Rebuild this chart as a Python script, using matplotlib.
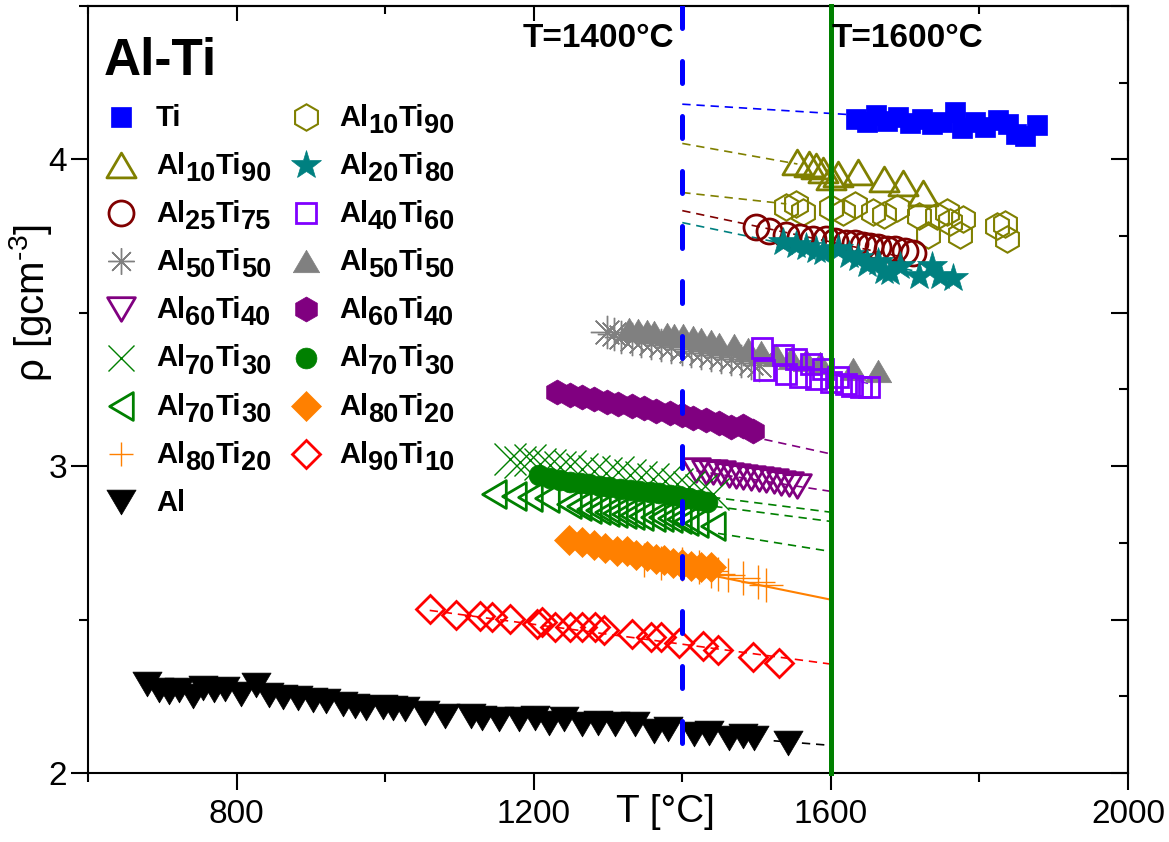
import re
import math
import matplotlib
matplotlib.use('Agg')
import matplotlib.pyplot as plt
from matplotlib.path import Path
from matplotlib.ticker import MultipleLocator, NullFormatter

plt.rcParams['font.family'] = ['Liberation Sans', 'DejaVu Sans']
plt.rcParams['mathtext.fontset'] = 'custom'
plt.rcParams['mathtext.rm'] = 'Liberation Sans'

W, H = 1169, 842

# --- measured densities (T in degC, rho in g/cm3) ---
ti_T = [1634, 1648, 1661, 1675, 1691, 1707, 1723, 1736, 1750, 1767, 1777, 1794, 1807, 1825, 1838, 1849, 1862, 1877]
ti_rho = [4.131, 4.121, 4.144, 4.124, 4.137, 4.118, 4.131, 4.114, 4.121, 4.154, 4.101, 4.121, 4.105, 4.127, 4.114, 4.082, 4.075, 4.111]

al10ti90a_T = [1555, 1570, 1580, 1589, 1600, 1610, 1637, 1671, 1697, 1724]
al10ti90a_rho = [3.990, 3.984, 3.977, 3.964, 3.944, 3.951, 3.958, 3.935, 3.922, 3.892]

al10ti90b_T = [1539, 1553, 1562, 1600, 1616, 1633, 1657, 1671, 1689, 1718, 1731, 1743, 1756, 1760, 1774, 1778, 1823, 1834, 1837]
al10ti90b_rho = [3.846, 3.856, 3.827, 3.840, 3.830, 3.850, 3.830, 3.820, 3.840, 3.814, 3.752, 3.814, 3.830, 3.797, 3.752, 3.807, 3.784, 3.791, 3.742]

al25ti75_T = [1499, 1517, 1539, 1559, 1576, 1593, 1606, 1620, 1633, 1643, 1653, 1664, 1675, 1687, 1700, 1710]
al25ti75_rho = [3.781, 3.765, 3.755, 3.748, 3.742, 3.739, 3.735, 3.729, 3.729, 3.722, 3.719, 3.716, 3.709, 3.709, 3.703, 3.696]

al20ti80_T = [1535, 1553, 1566, 1580, 1589, 1609, 1624, 1637, 1649, 1663, 1671, 1680, 1693, 1718, 1736, 1747, 1764]
al20ti80_rho = [3.732, 3.722, 3.716, 3.706, 3.699, 3.709, 3.690, 3.680, 3.660, 3.667, 3.637, 3.634, 3.654, 3.621, 3.654, 3.621, 3.614]

al50ti50a_T = [1298, 1308, 1318, 1332, 1345, 1358, 1372, 1385, 1399, 1412, 1425, 1439, 1452, 1466, 1479, 1492, 1503]
al50ti50a_rho = [3.438, 3.431, 3.422, 3.415, 3.408, 3.402, 3.395, 3.389, 3.382, 3.376, 3.369, 3.363, 3.356, 3.350, 3.343, 3.337, 3.330]

al50ti50b_T = [1328, 1341, 1352, 1362, 1379, 1389, 1401, 1415, 1425, 1439, 1450, 1470, 1488, 1506, 1526, 1546, 1566, 1586, 1630, 1663]
al50ti50b_rho = [3.448, 3.444, 3.441, 3.438, 3.431, 3.428, 3.428, 3.422, 3.415, 3.408, 3.399, 3.395, 3.382, 3.373, 3.363, 3.353, 3.346, 3.337, 3.317, 3.310]

al40ti60_T = [1507, 1510, 1535, 1539, 1553, 1559, 1573, 1580, 1590, 1600, 1610, 1620, 1629, 1640, 1651]
al40ti60_rho = [3.386, 3.314, 3.363, 3.301, 3.350, 3.291, 3.333, 3.284, 3.317, 3.275, 3.291, 3.268, 3.261, 3.258, 3.258]

al60ti40a_T = [1419, 1432, 1442, 1452, 1463, 1472, 1482, 1492, 1503, 1513, 1523, 1533, 1543, 1555]
al60ti40a_rho = [2.987, 2.980, 2.980, 2.977, 2.971, 2.967, 2.964, 2.961, 2.958, 2.954, 2.951, 2.944, 2.941, 2.935]

al60ti40b_T = [1231, 1249, 1265, 1281, 1298, 1314, 1332, 1348, 1365, 1383, 1399, 1415, 1432, 1450, 1466, 1482, 1495]
al60ti40b_rho = [3.242, 3.232, 3.225, 3.219, 3.209, 3.203, 3.196, 3.190, 3.180, 3.173, 3.167, 3.157, 3.150, 3.141, 3.127, 3.131, 3.114]

al70ti30a_T = [1168, 1182, 1195, 1208, 1222, 1235, 1249, 1265, 1281, 1297, 1313, 1329, 1345, 1361, 1377, 1393, 1409, 1425, 1442]
al70ti30a_rho = [3.023, 3.013, 3.020, 3.007, 3.003, 2.997, 3.000, 2.990, 2.984, 2.977, 2.980, 2.971, 2.964, 2.958, 2.951, 2.941, 2.931, 2.922, 2.908]

al70ti30b_T = [1147, 1174, 1195, 1218, 1247, 1261, 1274, 1286, 1298, 1310, 1321, 1332, 1344, 1361, 1372, 1384, 1395, 1405, 1419, 1442]
al70ti30b_rho = [2.908, 2.902, 2.899, 2.895, 2.876, 2.869, 2.859, 2.856, 2.850, 2.846, 2.843, 2.840, 2.837, 2.833, 2.833, 2.830, 2.827, 2.820, 2.814, 2.804]

al70ti30c_T = [1207, 1222, 1235, 1249, 1262, 1275, 1289, 1302, 1316, 1329, 1342, 1356, 1369, 1383, 1396, 1409, 1423, 1433]
al70ti30c_rho = [2.971, 2.961, 2.954, 2.948, 2.944, 2.941, 2.935, 2.931, 2.925, 2.922, 2.918, 2.915, 2.912, 2.905, 2.902, 2.895, 2.889, 2.882]

al80ti20a_T = [1348, 1372, 1399, 1423, 1439, 1448, 1462, 1482, 1502, 1513]
al80ti20a_rho = [2.693, 2.686, 2.680, 2.670, 2.660, 2.650, 2.644, 2.634, 2.624, 2.614]

al80ti20b_T = [1247, 1265, 1281, 1296, 1312, 1325, 1338, 1352, 1365, 1376, 1388, 1399, 1412, 1425, 1439]
al80ti20b_rho = [2.761, 2.752, 2.742, 2.735, 2.725, 2.722, 2.712, 2.706, 2.699, 2.693, 2.686, 2.680, 2.676, 2.673, 2.670]

al90ti10_T = [1060, 1096, 1128, 1144, 1168, 1204, 1211, 1228, 1249, 1265, 1282, 1294, 1332, 1358, 1372, 1396, 1428, 1448, 1495, 1530]
al90ti10_rho = [2.533, 2.516, 2.513, 2.507, 2.503, 2.487, 2.493, 2.477, 2.477, 2.477, 2.477, 2.467, 2.454, 2.444, 2.444, 2.425, 2.415, 2.402, 2.379, 2.359]

al_T = [679, 695, 709, 722, 742, 755, 769, 785, 806, 826, 843, 863, 883, 903, 920, 943, 959, 974, 997, 1010, 1027,
        1054, 1081, 1115, 1131, 1153, 1180, 1202, 1220, 1241, 1265, 1287, 1309, 1336, 1362, 1381, 1416, 1436, 1463,
        1482, 1496, 1542]
al_rho = [2.291, 2.271, 2.265, 2.271, 2.252, 2.278, 2.271, 2.275, 2.258, 2.288, 2.255, 2.248, 2.245, 2.239, 2.235,
          2.225, 2.219, 2.212, 2.216, 2.212, 2.209, 2.196, 2.186, 2.186, 2.180, 2.176, 2.176, 2.180, 2.163, 2.176,
          2.160, 2.163, 2.160, 2.160, 2.137, 2.144, 2.127, 2.131, 2.114, 2.121, 2.114, 2.098]

# linear fits: (T_start, T_end), (rho_start, rho_end)
fit_ti = ([1400, 1625], [4.180, 4.146])
fit_al10ti90a = ([1400, 1555], [4.052, 3.985])
fit_al10ti90b = ([1400, 1540], [3.892, 3.855])
fit_al25ti75 = ([1400, 1700], [3.833, 3.680])
fit_al20ti80 = ([1400, 1765], [3.794, 3.610])
fit_al40ti60 = ([1400, 1650], [3.422, 3.270])
fit_al60ti40a = ([1419, 1600], [2.985, 2.918])
fit_al60ti40b = ([1231, 1600], [3.235, 3.040])
fit_al70ti30a = ([1440, 1600], [2.899, 2.850])
fit_al70ti30c = ([1443, 1600], [2.869, 2.820])
fit_al70ti30b = ([1448, 1600], [2.781, 2.722])
fit_al80ti20 = ([1446, 1600], [2.641, 2.565])
fit_al90ti10 = ([1060, 1600], [2.530, 2.355])
fit_al = ([1523, 1600], [2.105, 2.090])

ref_T = [1400, 1600]
ref_labels = ['T=1400°C', 'T=1600°C']


# --- marker shapes ---
def tri(angle):
    base = [(0, 0.85), (-1, -0.85), (1, -0.85), (0, 0)]
    c, s = math.cos(math.radians(angle)), math.sin(math.radians(angle))
    pts = [(x * c - y * s, x * s + y * c) for x, y in base]
    return Path(pts, closed=True)


TRI_UP, TRI_DOWN, TRI_LEFT = tri(0), tri(180), tri(90)
ASTER = (8, 2, 0)

BLUE, OLIVE, DRED, TEAL = '#0000FF', '#808000', '#800000', '#008080'
GREY, VIOLET, PURPLE, GREEN = '#808080', '#8000FF', '#800080', '#008000'
ORANGE, RED = '#FF8000', '#FF0000'


def open_m(marker, ms, c, mew=2.0):
    return dict(marker=marker, ms=ms, mfc='none', mec=c, mew=mew)


def full_m(marker, ms, c):
    return dict(marker=marker, ms=ms, mfc=c, mec=c, mew=0.5)


# label, data, style, legend column, legend row
series = [
    ('Ti', ti_T, ti_rho, full_m('s', 14.5, BLUE), 0, 0),
    ('Al10Ti90', al10ti90a_T, al10ti90a_rho, open_m(TRI_UP, 21, OLIVE), 0, 1),
    ('Al10Ti90', al10ti90b_T, al10ti90b_rho, open_m('h', 19, OLIVE, 1.5), 1, 0),
    ('Al25Ti75', al25ti75_T, al25ti75_rho, open_m('o', 18, DRED), 0, 2),
    ('Al20Ti80', al20ti80_T, al20ti80_rho, full_m('*', 22, TEAL), 1, 1),
    ('Al50Ti50', al50ti50a_T, al50ti50a_rho, open_m(ASTER, 24, GREY, 1.0), 0, 3),
    ('Al50Ti50', al50ti50b_T, al50ti50b_rho, full_m(TRI_UP, 19, GREY), 1, 3),
    ('Al40Ti60', al40ti60_T, al40ti60_rho, open_m('s', 14.5, VIOLET), 1, 2),
    ('Al60Ti40', al60ti40b_T, al60ti40b_rho, full_m('h', 18, PURPLE), 1, 4),
    ('Al60Ti40', al60ti40a_T, al60ti40a_rho, open_m(TRI_DOWN, 20, PURPLE), 0, 4),
    ('Al70Ti30', al70ti30a_T, al70ti30a_rho, open_m('x', 23, GREEN, 1.0), 0, 5),
    ('Al70Ti30', al70ti30b_T, al70ti30b_rho, open_m(TRI_LEFT, 20, GREEN), 0, 6),
    ('Al70Ti30', al70ti30c_T, al70ti30c_rho, full_m('o', 15, GREEN), 1, 5),
    ('Al80Ti20', al80ti20a_T, al80ti20a_rho, open_m('+', 24, ORANGE, 1.0), 0, 7),
    ('Al80Ti20', al80ti20b_T, al80ti20b_rho, full_m('D', 15, ORANGE), 1, 6),
    ('Al90Ti10', al90ti10_T, al90ti10_rho, open_m('D', 14, RED), 1, 7),
    ('Al', al_T, al_rho, full_m(TRI_DOWN, 21, 'black'), 0, 8),
]

# legend glyphs are a bit smaller than the data markers for a few series
legend_ms = {5: 19, 10: 19, 13: 17}

fits = [
    (fit_ti, BLUE), (fit_al10ti90a, OLIVE), (fit_al10ti90b, OLIVE), (fit_al25ti75, DRED),
    (fit_al20ti80, TEAL), (fit_al40ti60, VIOLET), (fit_al60ti40a, PURPLE), (fit_al60ti40b, PURPLE),
    (fit_al70ti30a, GREEN), (fit_al70ti30c, GREEN), (fit_al70ti30b, GREEN),
    (fit_al90ti10, RED), (fit_al, 'black'),
]

fig = plt.figure(figsize=(W / 100, H / 100), dpi=100)
ax = fig.add_axes([88 / W, 1 - 773 / H, (1128 - 88) / W, (773 - 6) / H])
ax.set_xlim(600, 2000)
ax.set_ylim(2, 4.5)

for (ft, fr), c in fits:
    ax.plot(ft, fr, color=c, lw=1.2, ls=(0, (5, 3.5)), zorder=2)
ax.plot(fit_al80ti20[0], fit_al80ti20[1], color=ORANGE, lw=1.5, zorder=2)

for i, (lab, T, rho, st, col, row) in enumerate(series):
    ax.plot(T, rho, ls='none', zorder=3 + i * 0.01, **st)

# reference temperatures
ax.plot([ref_T[0]] * 2, [4.5, 2], color=BLUE, lw=3.6, dashes=(4.4, 6.6),
        dash_capstyle='round', zorder=5)
ax.plot([ref_T[1]] * 2, [4.5, 2], color=GREEN, lw=3.6, zorder=5, clip_on=False)

# axes decoration
for sp in ax.spines.values():
    sp.set_linewidth(1.5)
ax.xaxis.set_major_locator(MultipleLocator(400))
ax.xaxis.set_minor_locator(MultipleLocator(200))
ax.yaxis.set_major_locator(MultipleLocator(1))
ax.yaxis.set_minor_locator(MultipleLocator(0.5))
ax.tick_params(axis='both', which='major', direction='out', length=12, width=1.5,
               labelsize=24, top=False, right=False)
ax.tick_params(axis='both', which='minor', direction='out', length=6.5, width=1.5,
               top=False, right=False)
ax.tick_params(axis='x', pad=7)
ax.tick_params(axis='y', pad=3)

top = ax.secondary_xaxis('top')
top.xaxis.set_major_locator(MultipleLocator(400))
top.xaxis.set_minor_locator(MultipleLocator(200))
top.xaxis.set_major_formatter(NullFormatter())
top.tick_params(which='major', direction='in', length=11, width=1.5)
top.tick_params(which='minor', direction='in', length=5.5, width=1.5)
top.spines['top'].set_linewidth(1.5)

right = ax.secondary_yaxis('right')
right.yaxis.set_major_locator(MultipleLocator(0.5))
right.yaxis.set_minor_locator(MultipleLocator(0.25))
right.yaxis.set_major_formatter(NullFormatter())
right.tick_params(which='major', direction='in', length=12, width=1.5)
right.tick_params(which='minor', direction='in', length=6.5, width=1.5)
right.spines['right'].set_linewidth(1.5)

ax.set_xlabel('T [°C]', fontsize=28)
ax.xaxis.set_label_coords(0.555, -0.051)
ax.xaxis.label.set_va('center')
ax.set_ylabel('ρ [gcm$^{\\mathregular{\u20103}}$]', fontsize=29)
ax.yaxis.set_label_coords(-0.055, 0.613)
ax.yaxis.label.set_va('center')

# overlay in pixel units for title, annotations and legend
ov = fig.add_axes([0, 0, 1, 1])
ov.set_xlim(0, W)
ov.set_ylim(H, 0)
ov.axis('off')

ov.text(104, 75, 'Al-Ti', fontsize=37, fontweight='bold', va='baseline')
ov.text(523, 47, ref_labels[0], fontsize=24, fontweight='bold', va='baseline')
ov.text(832, 47, ref_labels[1], fontsize=24, fontweight='bold', va='baseline')

renderer = fig.canvas.get_renderer()


def formula(x, y, label, size=21, sub_size=19.5, drop=7):
    for part in re.findall(r'[A-Za-z]+|\d+', label):
        sub = part.isdigit()
        t = ov.text(x, y + (drop if sub else 0), part, fontsize=sub_size if sub else size,
                    fontweight='bold', va='baseline', ha='left')
        x += t.get_window_extent(renderer).width


col_marker_x = [121, 306]
col_text_x = [156, 339]
for i, (lab, T, rho, st, col, row) in enumerate(series):
    yrow = 117 + 48.1 * row
    lst = dict(st)
    lst['ms'] = legend_ms.get(i, st['ms'])
    ov.plot([col_marker_x[col]], [yrow], ls='none', **lst)
    formula(col_text_x[col], yrow + 9, lab)

fig.savefig('out.png', dpi=100)
